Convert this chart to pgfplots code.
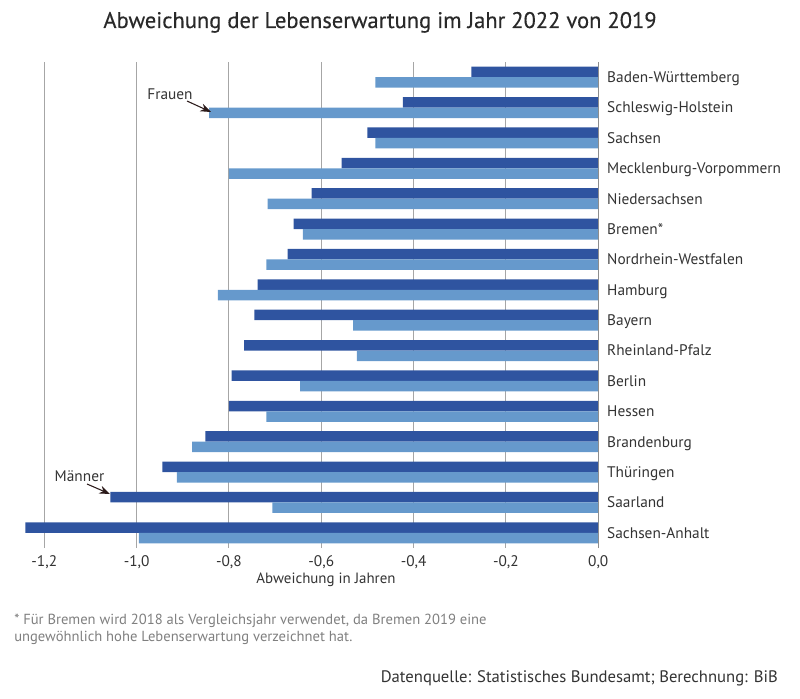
\documentclass[border=0pt]{standalone}
\usepackage{fontspec}
\setmainfont{PT Sans}
\newfontfamily\titelfont[FakeBold=0.35]{PT Sans}
\usepackage{pgfplots}
\pgfplotsset{compat=1.18}
\usetikzlibrary{arrows.meta}
\definecolor{maenner}{HTML}{2F54A0}
\definecolor{frauen}{HTML}{6699CC}
\definecolor{txt}{HTML}{333333}
\definecolor{foot}{HTML}{7F7F7F}
\definecolor{gridc}{HTML}{A6A6A6}
\definecolor{pfeil}{HTML}{2B1A1A}

% Abweichung der Lebenserwartung 2022 gegenueber 2019 (Jahre)
% y: 0 = Sachsen-Anhalt (unten) ... 15 = Baden-Wuerttemberg (oben)
\pgfplotstableread{
y  m       f
0  -1.241  -0.995
1  -1.057  -0.706
2  -0.944  -0.913
3  -0.851  -0.880
4  -0.800  -0.719
5  -0.794  -0.646
6  -0.767  -0.523
7  -0.745  -0.531
8  -0.738  -0.824
9  -0.673  -0.719
10 -0.660  -0.640
11 -0.621  -0.716
12 -0.556  -0.800
13 -0.500  -0.483
14 -0.423  -0.843
15 -0.275  -0.483
}\lebensdaten

\begin{document}
\begin{tikzpicture}
\begin{scope}[x=0.75pt,y=-0.75pt]
  \useasboundingbox (0,0) rectangle (800,699);
\end{scope}
\begin{axis}[
  at={(15.9pt,-411pt)}, anchor=south west,
  scale only axis, width=432.8pt, height=364.5pt,
  xbar, bar width=7.9pt,
  xmin=-1.25, xmax=0, ymin=-0.5, ymax=15.5,
  axis line style={draw=none},
  clip=false,
  xtick={-1.2,-1.0,-0.8,-0.6,-0.4,-0.2,0},
  xticklabels={{-1,2},{-1,0},{-0,8},{-0,6},{-0,4},{-0,2},{0,0}},
  ytick={0,...,15},
  yticklabels={Sachsen-Anhalt,Saarland,Thüringen,Brandenburg,Hessen,Berlin,Rheinland-Pfalz,Bayern,Hamburg,Nordrhein-Westfalen,Bremen*,Niedersachsen,Mecklenburg-Vorpommern,Sachsen,Schleswig-Holstein,Baden-Württemberg},
  yticklabel pos=right,
  major tick length=0pt,
  xmajorgrids, grid style={gridc, line width=0.75pt},
  tick label style={font=\fontsize{11.5}{13}\selectfont, text=txt},
  yticklabel style={anchor=mid west, inner sep=0pt, xshift=6.5pt, yshift=-1.5pt},
  xticklabel style={anchor=base, inner sep=0pt, yshift=-13.5pt},
]
\addplot[fill=maenner, draw=none, bar shift=3.94pt] table[x=m, y=y] {\lebensdaten};
\addplot[fill=frauen, draw=none, bar shift=-3.94pt] table[x=f, y=y] {\lebensdaten};
\draw[gridc!85!black, line width=0.9pt] (0,-0.5) -- (0,15.5);
\end{axis}
\begin{scope}[x=0.75pt,y=-0.75pt]
  \node[anchor=base, font=\titelfont\fontsize{16.9}{20}\selectfont, text=txt!80!black] at (380,28)
    {Abweichung der Lebenserwartung im Jahr 2022 von 2019};
  \node[anchor=base, font=\fontsize{11.2}{13}\selectfont, text=txt] at (326,583)
    {Abweichung in Jahren};
  \node[anchor=base, font=\fontsize{11.5}{13}\selectfont, text=txt] at (170,99)
    {Frauen};
  \draw[-{Stealth[length=8pt,width=6pt]}, pfeil, line width=0.8pt] (187,101) -- (211,112);
  \node[anchor=base, font=\fontsize{11.5}{13}\selectfont, text=txt] at (79.5,481)
    {Männer};
  \draw[-{Stealth[length=8pt,width=6pt]}, pfeil, line width=0.8pt] (87,484) -- (110,494);
  \node[anchor=base west, inner sep=0pt, font=\fontsize{10.95}{12}\selectfont, text=foot] at (14,624)
    {* Für Bremen wird 2018 als Vergleichsjahr verwendet, da Bremen 2019 eine};
  \node[anchor=base west, inner sep=0pt, font=\fontsize{10.95}{12}\selectfont, text=foot] at (14,641.7)
    {ungewöhnlich hohe Lebenserwartung verzeichnet hat.};
  \node[anchor=base east, inner sep=0pt, font=\fontsize{12.5}{14}\selectfont, text=txt] at (778,682)
    {Datenquelle: Statistisches Bundesamt; Berechnung: BiB};
\end{scope}
\end{tikzpicture}
\end{document}
